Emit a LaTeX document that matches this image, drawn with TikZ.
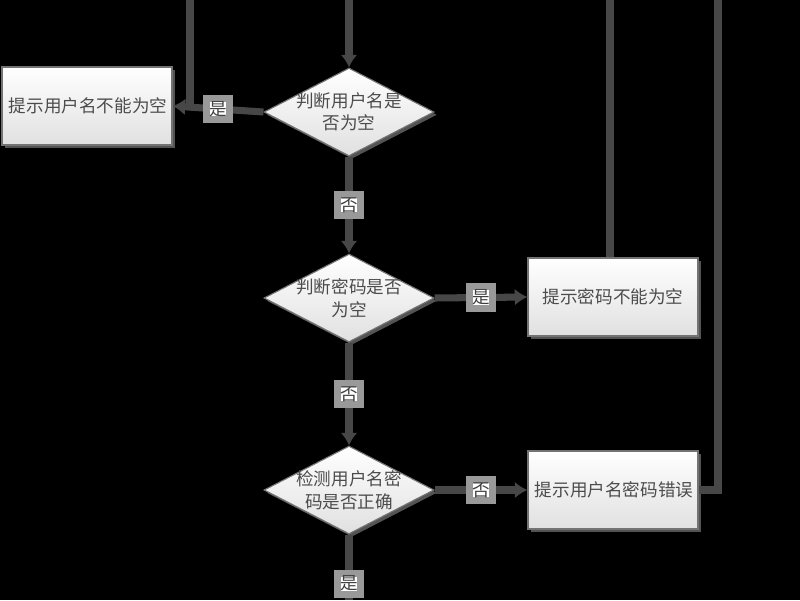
\documentclass[tikz,border=0pt]{standalone}
\usepackage{fontspec}
\setmainfont{Noto Sans CJK SC}
\usetikzlibrary{arrows.meta, positioning, shadows, shapes.geometric}
\def\LineColor{black!72}

\begin{document}
\begin{tikzpicture} [
    x=0.025cm, y=-0.025cm,
    box/.style = {draw=black!55, thick, top color=white, bottom color=black!12,
                  minimum width=4.25cm, minimum height=1.95cm, text width=3.9cm, align=center,
                  drop shadow={shadow xshift=2pt, shadow yshift=-2pt, fill=black!35}},
    dia/.style = {diamond, draw=black!55, thick, top color=white, bottom color=black!12,
                  minimum width=4.25cm, minimum height=2.2cm, inner sep=0pt,
                  drop shadow={shadow xshift=2pt, shadow yshift=-2pt, fill=black!35}},
    txt/.style = {text=black!70, align=center, font=\fontsize{12.5}{16}\selectfont},
    lbl/.style = {fill=white, draw=black!40, inner sep=2pt, text=black!75, font=\fontsize{12.5}{14}\selectfont},
    flow/.style = {draw=\LineColor, line width=5pt},
    every edge/.style={draw=\LineColor, line width=5pt, -{Latex[length=9pt,width=12pt]}}
    ]

  \useasboundingbox[fill=black] (0,0) rectangle (800,600);

  %%% boxes %%%
  \node[box, txt] (nouser) at (87,106) {提示用户名不能为空};
  \node[box, txt] (nopass) at (613,297) {提示密码不能为空};
  \node[box, txt] (wrong)  at (613,490) {提示用户名密码错误};

  %%% decisions %%%
  \node[dia] (chkuser) at (349,112) {};
    \node[txt] (chkusert) at (chkuser) {判断用户名是\\否为空};
  \node[dia] (chkpass) at (349,298) {};
    \node[txt] (chkpasst) at (chkpass) {判断密码是否\\为空};
  \node[dia] (chkboth) at (349,490) {};
    \node[txt] (chkbotht) at (chkboth) {检测用户名密\\码是否正确};

  % free ends
  \coordinate (top1) at (190,0);
  \coordinate (top2) at (349,0);
  \coordinate (top3) at (610,0);
  \coordinate (top4) at (718,0);
  \coordinate (bot)  at (349,600);

  % Edges
  \path (top2) edge (chkuser.north);
  \path (chkuser.west) edge node[lbl] (l1) {是} (nouser.east);
  \draw[flow] (top1) -- (top1 |- nouser.east);
  \path (chkuser.south) edge node[lbl] (l2) {否} (chkpass.north);
  \path (chkpass.east) edge node[lbl] (l3) {是} (nopass.west);
  \draw[flow] (nopass.north -| top3) -- (top3);
  \path (chkpass.south) edge node[lbl] (l4) {否} (chkboth.north);
  \path (chkboth.east) edge node[lbl] (l5) {否} (wrong.west);
  \draw[flow] (wrong.east) -- (top4 |- wrong.east) -- (top4);
  \draw[flow] (chkboth.south) -- node[lbl, pos=0.75] (l6) {是} (bot);

\end{tikzpicture}
\end{document}
